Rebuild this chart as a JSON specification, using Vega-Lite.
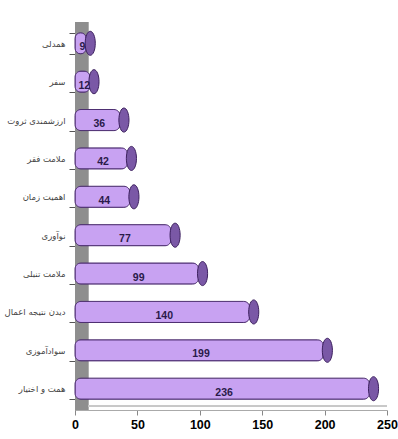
{
  "$schema": "https://vega.github.io/schema/vega-lite/v6.json",
  "width": 312,
  "height": 388,
  "autosize": {"type": "none"},
  "padding": {"left": 75, "top": 22, "right": 11, "bottom": 29},
  "background": "white",
  "config": {"view": {"stroke": null}},
  "data": {"values": [
    {"c": "همدلی", "v": 9},
    {"c": "سفر", "v": 12},
    {"c": "ارزشمندی ثروت", "v": 36},
    {"c": "ملامت فقر", "v": 42},
    {"c": "اهمیت زمان", "v": 44},
    {"c": "نوآوری", "v": 77},
    {"c": "ملامت تنبلی", "v": 99},
    {"c": "دیدن نتیجه اعمال", "v": 140},
    {"c": "سوادآموزی", "v": 199},
    {"c": "همت و اختیار", "v": 236}
  ]},
  "encoding": {
    "y": {"field": "c", "type": "nominal", "sort": null,
      "scale": {"paddingInner": 0.45, "paddingOuter": 0.28},
      "axis": {"title": null, "labelFont": "DejaVu Sans", "labelFontSize": 8.5, "labelColor": "#444", "domainColor": "#777", "tickColor": "#555", "tickBand": "extent", "tickSize": 6, "labelPadding": 4}}
  },
  "layer": [
    {
      "mark": {"type": "rect", "color": "#8e8e8e"},
      "encoding": {"x": {"datum": 0, "type": "quantitative", "scale": {"domain": [0, 250], "nice": false}}, "x2": {"datum": 10.5}, "y": null}
    },
    {
      "mark": {"type": "rule", "color": "#c8c8c8", "strokeWidth": 1, "yOffset": -4},
      "encoding": {"x": {"datum": 10.5, "type": "quantitative"}, "x2": {"datum": 250}, "y": {"value": 388}}
    },
    {
      "mark": {"type": "bar", "color": "#c8a2f2", "stroke": "#4e2f72", "strokeWidth": 1, "cornerRadius": 6},
      "encoding": {
        "x": {"field": "v", "type": "quantitative",
          "axis": {"title": null, "values": [0, 50, 100, 150, 200, 250], "grid": false, "labelFont": "Liberation Sans", "labelFontSize": 12.5, "labelFontWeight": "bold", "labelColor": "#000", "domainColor": "#aaa", "tickColor": "#888", "tickSize": 5, "labelFlush": false, "labelPadding": 3}}
      }
    },
    {
      "mark": {"type": "point", "shape": "M0,-1 A0.42,1 0 1,1 0,1 A0.42,1 0 1,1 0,-1 Z", "size": 580, "filled": true, "color": "#7a58a6", "stroke": "#3e2260", "strokeWidth": 1, "opacity": 1, "xOffset": 4},
      "encoding": {"x": {"field": "v", "type": "quantitative"}}
    },
    {
      "transform": [{"calculate": "datum.v / 2 + 1.5", "as": "h"}],
      "mark": {"type": "text", "font": "Liberation Sans", "fontSize": 10.5, "fontWeight": "bold", "color": "#2a1a4a", "dy": 4},
      "encoding": {"x": {"field": "h", "type": "quantitative"}, "text": {"field": "v"}}
    }
  ]
}
